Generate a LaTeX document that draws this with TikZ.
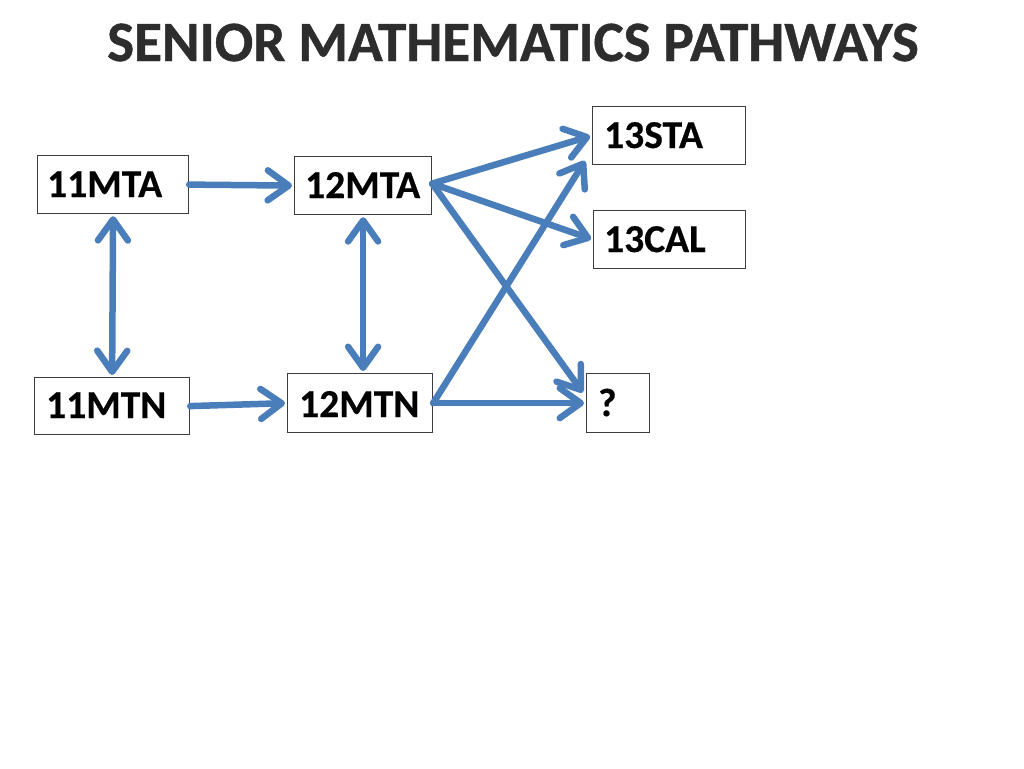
\documentclass[tikz,border=0pt]{standalone}
\usepackage{fontspec}
\setmainfont{Carlito}[BoldFeatures={FakeBold=0.5}]
\newfontfamily\titlefont{Carlito}[BoldFeatures={FakeBold=0.8}]
\usetikzlibrary{arrows.meta,calc}
\definecolor{arrowblue}{RGB}{74,126,187}
\definecolor{titlegray}{RGB}{45,45,45}
\definecolor{boxline}{RGB}{60,60,60}
\begin{document}
\begin{tikzpicture}[x=1pt,y=-1pt,
  box/.style={draw=boxline, line width=1.2pt, fill=white, inner sep=0pt, anchor=north west},
  lbl/.style={anchor=base west, inner sep=0pt, font=\fontsize{39.5}{44}\selectfont\bfseries},
  barb/.tip={Straight Barb[length=21pt,width=30pt,round]},
  conn/.style={draw=arrowblue, line width=6.5pt, line cap=round, -barb, shorten >=2pt},
  both/.style={draw=arrowblue, line width=6.5pt, line cap=round, barb-barb, shorten >=2pt, shorten <=2pt}
]
\useasboundingbox[fill=white] (0,0) rectangle (1024,768);

\node[font=\titlefont\fontsize{57}{62}\selectfont\bfseries, text=titlegray, anchor=base, inner sep=0pt] (title) at (513,61) {SENIOR MATHEMATICS PATHWAYS};

% boxes
\node[box, minimum width=151pt, minimum height=58pt] (a11) at (37,155) {};
\node[box, minimum width=137pt, minimum height=58pt] (a12) at (294,156) {};
\node[box, minimum width=153pt, minimum height=58pt] (s13) at (592,106) {};
\node[box, minimum width=152pt, minimum height=58pt] (c13) at (593,210) {};
\node[box, minimum width=155pt, minimum height=57pt] (n11) at (34,377) {};
\node[box, minimum width=145pt, minimum height=59pt] (n12) at (287,373) {};
\node[box, minimum width=63pt, minimum height=59pt] (q) at (586,373) {};

% labels
\node[lbl] (ta11) at (47,197) {11MTA};
\node[lbl] (ta12) at (305,198) {12MTA};
\node[lbl] (ts13) at (604,148) {13STA};
\node[lbl] (tc13) at (604,252) {13CAL};
\node[lbl] (tn11) at (46,418) {11MTN};
\node[lbl] (tn12) at (299,417) {12MTN};
\node[lbl] (tq) at (598,416) {?};

% connectors
\draw[conn] (a11.east) -- (a12.west);
\draw[both] (a11.south) -- (n11.north);
\draw[both] (a12.south) -- (a12.south |- n12.north);
\draw[conn] (n11.east) -- (n12.west);
\draw[conn] ([yshift=2pt]a12.east) -- (s13.west);
\draw[conn] ([yshift=2pt]a12.east) -- (c13.west);
\draw[conn] ([yshift=2pt]a12.east) -- ([shift={(-2,-9)}]q.west);
\draw[conn] (n12.east) -- ([shift={(-6,-6)}]s13.south west);
\draw[conn] (n12.east) -- (q.west);
\end{tikzpicture}
\end{document}
